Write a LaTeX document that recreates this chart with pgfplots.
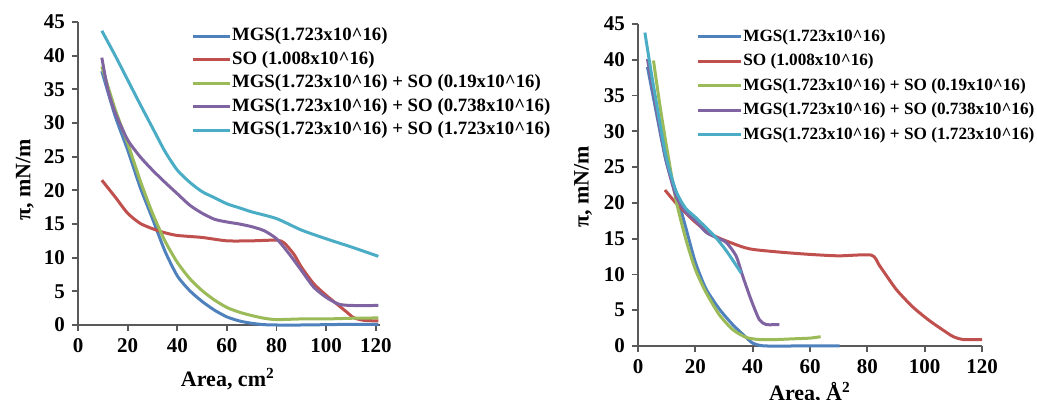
\documentclass[border=0pt]{standalone}
\usepackage{pgfplots}
\pgfplotsset{compat=1.18}
\usepackage{fontspec}
\setmainfont{Liberation Serif}

\definecolor{cBlue}{HTML}{4F81BD}
\definecolor{cRed}{HTML}{C0504D}
\definecolor{cGreen}{HTML}{9BBB59}
\definecolor{cPurple}{HTML}{8064A2}
\definecolor{cCyan}{HTML}{4BACC6}

\newcommand{\pw}[1]{\textasciicircum#1}

\pgfplotsset{
  isoplot/.style={
    scale only axis,
    axis lines=left,
    axis line style={-, black!65, line width=0.9pt},
    tick style={black!65, line width=0.9pt},
    major tick length=3pt,
    tick align=outside,
    ymin=0, ymax=45,
    ytick={0,5,...,45},
    xtick={0,20,...,120},
    /pgf/number format/assume math mode=true,
    tick label style={font=\fontsize{10.5}{12}\selectfont\bfseries},
    label style={font=\fontsize{11}{13}\selectfont\bfseries},
    every axis plot/.append style={line width=1.5pt, no markers, line join=round, smooth, tension=0.4},
    legend cell align=left,
    clip=false,
  }
}

\begin{document}
\begin{tikzpicture}
\useasboundingbox (0,0) rectangle (518.5pt,200pt);

% left: area in cm^2
\begin{axis}[isoplot,
  at={(39pt,37.5pt)}, anchor=south west,
  width=150.8pt, height=151.5pt,
  xmin=0, xmax=121.5,
  xlabel={Area, cm\textsuperscript{2}},
  ylabel={π, mN/m},
  ylabel style={at={(axis description cs:-0.176,0.479)}, anchor=center},
  xlabel style={at={(axis description cs:0.497,-0.178)}, anchor=center},
  legend style={at={(0.355,0.997)}, anchor=north west, draw=none, fill=none,
    font=\fontsize{9.4}{11}\selectfont\bfseries,
    nodes={inner sep=0.3pt, text height=6.5pt, text depth=2pt},
    row sep=2.6pt},
  legend image code/.code={\draw[#1, line width=1.5pt] (0pt,0pt) -- (18.5pt,0pt);},
]
\addplot[cBlue] coordinates {(9.6,37.7)(15,31)(20,26)(25,20.5)(30,15.8)(35,11)(40,7.3)(45,5.1)(50,3.5)(55,2.2)(60,1.2)(65,0.6)(70,0.25)(75,0.05)(80,0)(90,0)(100,0.05)(110,0.1)(121,0.1)};
\addplot[cRed] coordinates {(9.6,21.5)(15,19)(20,16.6)(25,15.1)(30,14.3)(35,13.7)(40,13.3)(50,13)(60,12.5)(70,12.5)(80,12.6)(83,12.2)(87,10.5)(90,8.6)(95,6.1)(100,4.4)(105,2.9)(108,2)(111,1.1)(115,0.7)(121,0.6)};
\addplot[cGreen] coordinates {(9.6,38.4)(15,32)(20,27)(25,21.5)(30,16.6)(35,12.5)(40,9.3)(45,6.9)(50,5.1)(55,3.7)(60,2.6)(65,1.9)(70,1.4)(75,1)(80,0.8)(90,0.9)(100,0.9)(110,1)(121,1.05)};
\addplot[cPurple] coordinates {(9.6,39.7)(12,35)(15,31.5)(20,27.5)(25,25)(30,23)(35,21.2)(40,19.5)(45,17.8)(50,16.6)(55,15.7)(60,15.3)(65,15)(70,14.6)(75,14)(80,12.8)(85,10.6)(90,8.1)(95,5.6)(100,4.1)(105,3.1)(110,2.9)(121,2.9)};
\addplot[cCyan] coordinates {(9.6,43.7)(15,40)(20,36.4)(25,32.8)(30,29.3)(35,25.8)(40,23)(45,21.2)(50,19.8)(55,18.9)(60,18)(65,17.4)(70,16.8)(80,15.8)(90,14.1)(100,12.8)(110,11.6)(121,10.2)};
\legend{MGS(1.723x10\pw{16}),SO (1.008x10\pw{16}),MGS(1.723x10\pw{16}) + SO (0.19x10\pw{16}),MGS(1.723x10\pw{16}) + SO (0.738x10\pw{16}),MGS(1.723x10\pw{16}) + SO (1.723x10\pw{16})}
\end{axis}

% right: area in A^2
\begin{axis}[isoplot,
  at={(319pt,27pt)}, anchor=south west,
  width=172pt, height=161pt,
  xmin=0, xmax=120,
  xlabel={Area, Å\textsuperscript{2}},
  ylabel={π, mN/m},
  ylabel style={at={(axis description cs:-0.16,0.494)}, anchor=center},
  xlabel style={at={(axis description cs:0.5,-0.146)}, anchor=center},
  legend style={at={(0.152,1.003)}, anchor=north west, draw=none, fill=none,
    font=\fontsize{8.6}{10}\selectfont\bfseries,
    nodes={inner sep=0.3pt, text height=6.5pt, text depth=2pt},
    row sep=3.2pt},
  legend image code/.code={\draw[#1, line width=1.5pt] (0pt,0pt) -- (21.5pt,0pt);},
]
\addplot[cBlue] coordinates {(3.3,39)(6.2,33)(9.7,26)(13.2,21.5)(16.7,16.5)(20,11.7)(23.7,8)(28.3,5.2)(33,3)(37.7,1.2)(40,0.4)(42.3,0.1)(45,0)(55,0)(70.3,0)};
\addplot[cRed] coordinates {(9.4,21.8)(13.2,20)(20,17.3)(26.6,15.4)(35.3,14)(40,13.5)(50,13.1)(60,12.8)(70,12.6)(81.4,12.7)(84.3,11.2)(90.1,7.9)(96,5.4)(101.8,3.5)(107.6,1.9)(110,1.3)(113.5,0.9)(120,0.9)};
\addplot[cGreen] coordinates {(5.4,39.9)(7.5,34)(9.7,28.5)(13.2,20.5)(16.7,14.9)(20,10.7)(23.7,7.5)(28.3,4.4)(33,2.3)(37.7,1.2)(42.3,0.9)(48.2,0.9)(54,1)(60,1.1)(63.7,1.3)};
\addplot[cPurple] coordinates {(3.3,40.1)(6.2,33.6)(9.7,26.1)(13.2,21)(16.5,18.8)(20,17.5)(23.7,15.9)(27,15.2)(30.7,14.5)(34.2,12.6)(36.5,9.8)(39.4,6.5)(42.3,3.7)(44.7,3)(49.3,3)};
\addplot[cCyan] coordinates {(2.4,43.8)(4.5,38.5)(6.2,34.5)(9.7,26.6)(13.2,21.7)(16.5,19.3)(20,18)(26.6,15.4)(31,13.2)(36,10.2)};
\legend{MGS(1.723x10\pw{16}),SO (1.008x10\pw{16}),MGS(1.723x10\pw{16}) + SO (0.19x10\pw{16}),MGS(1.723x10\pw{16}) + SO (0.738x10\pw{16}),MGS(1.723x10\pw{16}) + SO (1.723x10\pw{16})}
\end{axis}
\end{tikzpicture}
\end{document}
